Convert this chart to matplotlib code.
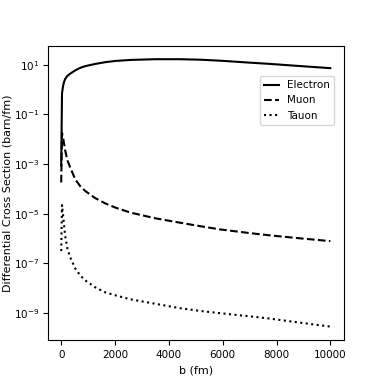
import matplotlib
matplotlib.use("Agg")
from matplotlib import pyplot as plt
import numpy as np

# impact parameter b (fm)
b = [0, 30, 70, 110, 150, 230, 335, 520, 700, 890, 1265, 1635, 2010, 2565,
     3490, 4420, 5170, 5910, 7030, 7770, 8800, 10000]

# log10 of differential cross section (barn/fm)
electron_log = [-3.05, -0.15, 0.15, 0.32, 0.43, 0.55, 0.64, 0.77, 0.87, 0.94,
                1.03, 1.10, 1.15, 1.19, 1.22, 1.22, 1.20, 1.16, 1.08, 1.03,
                0.95, 0.86]
muon_log = [-3.74, -1.75, -1.95, -2.2, -2.46, -2.85, -3.14, -3.61, -3.88,
            -4.08, -4.37, -4.58, -4.75, -4.95, -5.18, -5.36, -5.50, -5.63,
            -5.78, -5.87, -5.98, -6.10]
tauon_log = [-6.50, -4.65, -5.05, -5.50, -5.90, -6.40, -6.75, -7.20, -7.47,
             -7.68, -7.96, -8.16, -8.28, -8.44, -8.62, -8.80, -8.91, -9.00,
             -9.13, -9.22, -9.37, -9.54]

labels = ["Electron", "Muon", "Tauon"]
styles = ["-", "--", ":"]

plt.rcParams['font.size'] = 8
fig = plt.figure(figsize=(3.82, 3.82), dpi=100)
ax = fig.add_subplot(1, 1, 1)

for ylog, lab, ls in zip([electron_log, muon_log, tauon_log], labels, styles):
    ax.plot(b, np.power(10.0, ylog), color='black', linestyle=ls, lw=1.5, label=lab)

ax.set_yscale('log')
ax.set_yticks([1e1, 1e-1, 1e-3, 1e-5, 1e-7, 1e-9])
ax.minorticks_off()
ax.set_xticks([0, 2000, 4000, 6000, 8000, 10000])
ax.tick_params(labelsize=7.5)
ax.tick_params(axis='y', pad=2.5)
ax.set_xlabel('b (fm)')
ax.set_ylabel('Differential Cross Section (barn/fm)')
ax.yaxis.set_label_coords(-0.12, 0.5)
ax.legend(loc='upper right', bbox_to_anchor=(0.985, 0.915), handlelength=1.4,
          fontsize=7.5)

plt.savefig('out.png', dpi=100)
